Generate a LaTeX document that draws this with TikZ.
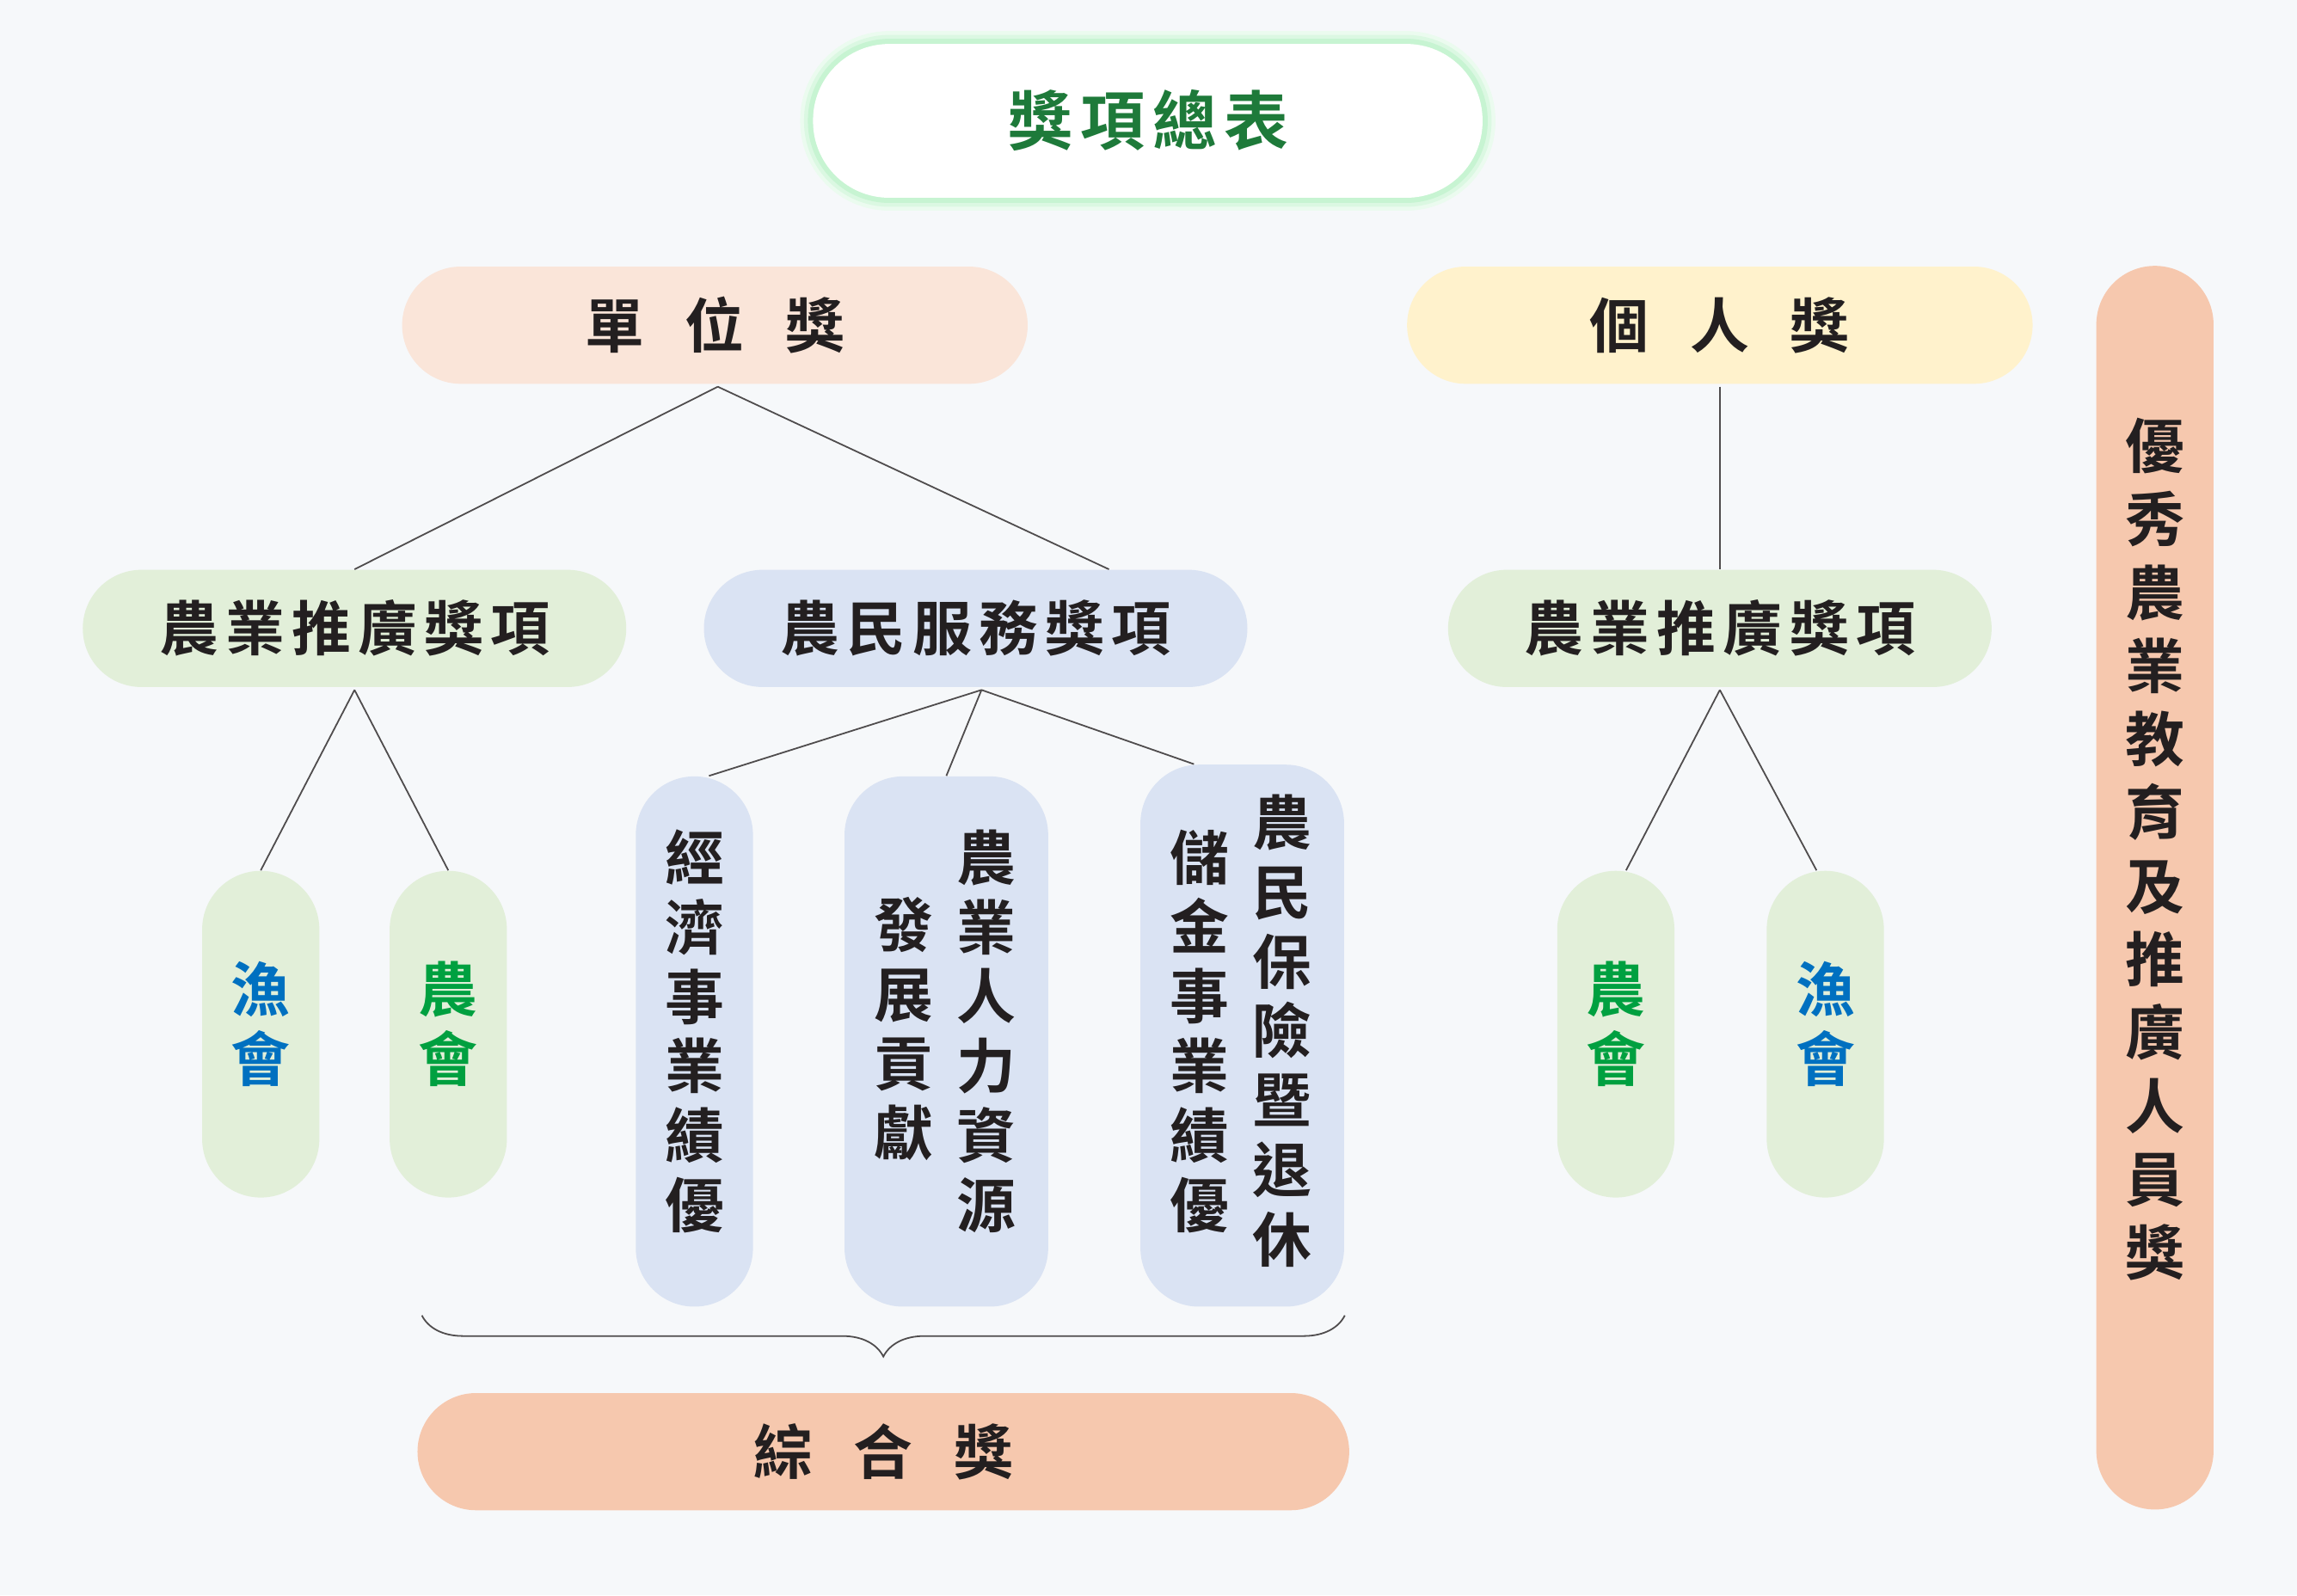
\documentclass[tikz,border=0pt]{standalone}
\usepackage{fontspec}
\usepackage{xcolor}
\usepackage{tikz}
\usetikzlibrary{decorations.pathreplacing}
\newfontfamily\cjk[BoldFont={Noto Sans CJK TC Bold},LetterSpace=12]{Noto Sans CJK TC}
\definecolor{bgcol}{HTML}{F6F8FA}
\definecolor{peach}{HTML}{FAE5D9}
\definecolor{cream}{HTML}{FFF2CC}
\definecolor{salmon}{HTML}{F6C8AE}
\definecolor{paleg}{HTML}{E2EFD9}
\definecolor{paleb}{HTML}{DAE3F3}
\definecolor{txt}{HTML}{231F20}
\definecolor{fishb}{HTML}{0070C0}
\definecolor{farmg}{HTML}{00A040}
\definecolor{titleg}{HTML}{1E7A3A}
\tikzset{
  pill/.style={rounded corners=40*0.02cm, draw=none, font=\cjk\bfseries\fontsize{23}{27}\selectfont, text=txt},
  vtxt/.style={font=\cjk\bfseries\fontsize{23}{27}\selectfont, text=txt, align=center, anchor=north, inner sep=0pt},
  link/.style={draw=txt!80, line width=0.6pt}
}
\begin{document}
\begin{tikzpicture}[x=0.02cm, y=-0.02cm]
  \fill[bgcol] (0,0) rectangle (1568,1089);
  \useasboundingbox (0,0) rectangle (1568,1089);
  % title with glow
  \foreach \w/\c in {10/8,7/14,4/22}
    \draw[green!60!teal!\c, line width=\w pt, rounded corners=52*0.02cm] (555,30) rectangle (1012,135);
  \fill[white, rounded corners=52*0.02cm] (555,30) rectangle (1012,135);
  \node[font=\cjk\bfseries\fontsize{25}{30}\selectfont, text=titleg] (title) at (784,82) {獎項總表};
  % top level
  \node[pill, fill=peach, minimum width=427*0.02cm, minimum height=80*0.02cm] (unit) at (488,222) {單\ \ 位\ \ 獎};
  \node[pill, fill=cream, minimum width=427*0.02cm, minimum height=80*0.02cm] (person) at (1174,222) {個\ \ 人\ \ 獎};
  \node[pill, fill=salmon, minimum width=80*0.02cm, minimum height=849*0.02cm] (teach) at (1471,606) {};
  \node[vtxt, inner sep=0pt, font=\cjk\bfseries\fontsize{23}{28.5}\selectfont] (teachtxt) at (1471,285) {優\\秀\\農\\業\\教\\育\\及\\推\\廣\\人\\員\\獎};
  % second level
  \node[pill, fill=paleg, minimum width=371*0.02cm, minimum height=80*0.02cm] (extL) at (242,429) {農業推廣獎項};
  \node[pill, fill=paleb, minimum width=371*0.02cm, minimum height=80*0.02cm] (serv) at (666,429) {農民服務獎項};
  \node[pill, fill=paleg, minimum width=371*0.02cm, minimum height=80*0.02cm] (extR) at (1174,429) {農業推廣獎項};
  % third level
  \node[pill, fill=paleg, minimum width=80*0.02cm, minimum height=223*0.02cm] (fishL) at (178,706) {};
  \node[vtxt, text=fishb] (fishLt) at (178,656) {漁\\會};
  \node[pill, fill=paleg, minimum width=80*0.02cm, minimum height=223*0.02cm] (farmL) at (306,706) {};
  \node[vtxt, text=farmg] (farmLt) at (306,656) {農\\會};
  \node[pill, fill=paleg, minimum width=80*0.02cm, minimum height=223*0.02cm] (farmR) at (1103,706) {};
  \node[vtxt, text=farmg] (farmRt) at (1103,656) {農\\會};
  \node[pill, fill=paleg, minimum width=80*0.02cm, minimum height=223*0.02cm] (fishR) at (1246,706) {};
  \node[vtxt, text=fishb] (fishRt) at (1246,656) {漁\\會};
  \node[pill, fill=paleb, minimum width=80*0.02cm, minimum height=362*0.02cm] (econ) at (474,711) {};
  \node[vtxt] (econt) at (474,566) {經\\濟\\事\\業\\績\\優};
  \node[pill, fill=paleb, minimum width=139*0.02cm, minimum height=362*0.02cm] (human) at (646,711) {};
  \node[vtxt] (humanA) at (673,566) {農\\業\\人\\力\\資\\源};
  \node[vtxt] (humanB) at (617,612) {發\\展\\貢\\獻};
  \node[pill, fill=paleb, minimum width=139*0.02cm, minimum height=370*0.02cm] (insur) at (848,707) {};
  \node[vtxt] (insurA) at (875,542) {農\\民\\保\\險\\暨\\退\\休};
  \node[vtxt] (insurB) at (819,566) {儲\\金\\事\\業\\績\\優};
  % bottom
  \node[pill, fill=salmon, minimum width=636*0.02cm, minimum height=80*0.02cm] (combo) at (603,991) {綜\ \ 合\ \ 獎};
  \draw[link, decorate, decoration={brace, mirror, amplitude=16pt}] (288,898) -- (918,898);
  % connectors
  \coordinate (uB) at (490,264);
  \coordinate (pB) at (1174,264);
  \coordinate (eB) at (242,471);
  \coordinate (sB) at (670,471);
  \coordinate (rB) at (1174,471);
  \draw[link] (uB) -- (extL.north) (uB) -- ([xshift=91*0.02cm]serv.north);
  \draw[link] (pB) -- (extR.north);
  \draw[link] (eB) -- (fishL.north) (eB) -- (farmL.north);
  \draw[link] (sB) -- ([xshift=10*0.02cm]econ.north) (sB) -- (human.north) (sB) -- ([xshift=-33*0.02cm]insur.north);
  \draw[link] (rB) -- ([xshift=7*0.02cm]farmR.north) (rB) -- ([xshift=-6*0.02cm]fishR.north);
\end{tikzpicture}
\end{document}
